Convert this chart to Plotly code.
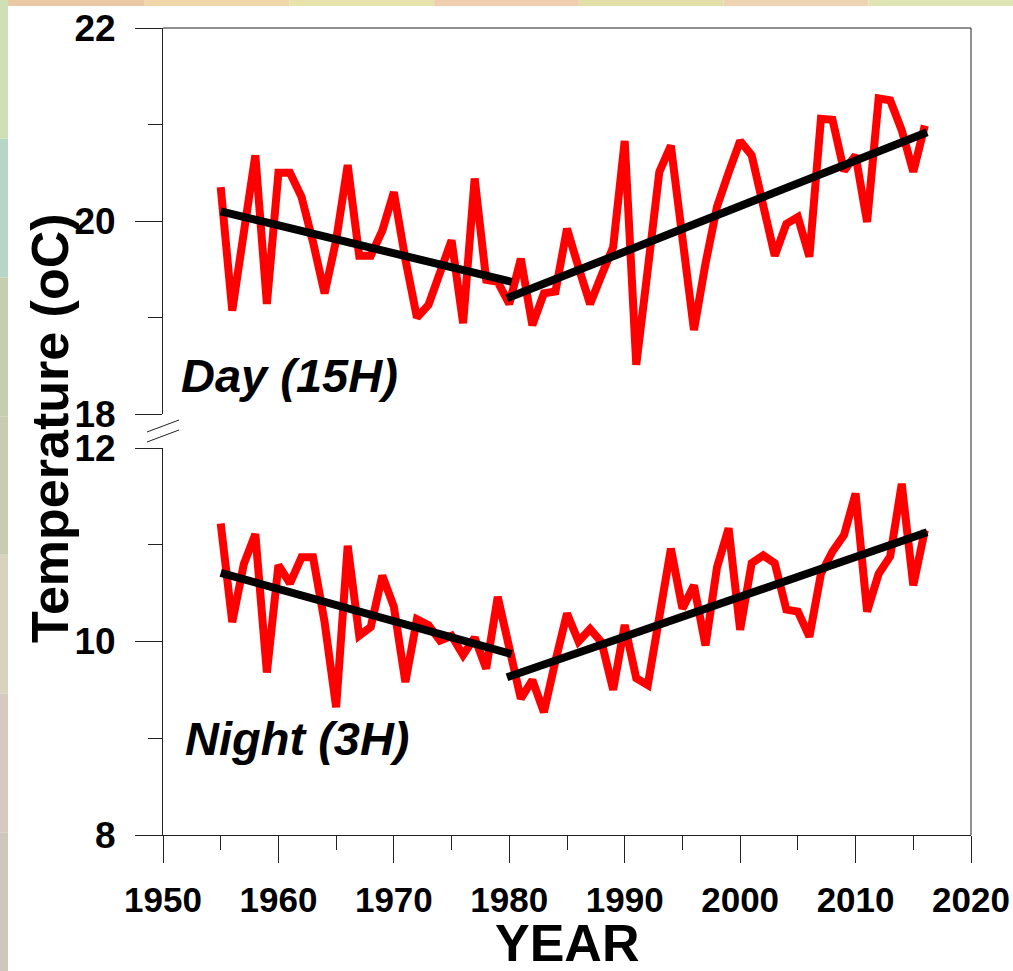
import plotly.graph_objects as go

years = list(range(1955, 2017))

day_temp = [20.35, 19.07, 19.88, 20.68, 19.14, 20.50, 20.50, 20.25, 19.78, 19.25,
            19.80, 20.58, 19.64, 19.64, 19.90, 20.30, 19.60, 19.00, 19.13, 19.47,
            19.80, 18.94, 20.44, 19.39, 19.37, 19.14, 19.61, 18.92, 19.25, 19.27,
            19.92, 19.52, 19.14, 19.44, 19.73, 20.83, 18.51, 19.50, 20.51, 20.78,
            19.83, 18.87, 19.56, 20.15, 20.50, 20.83, 20.68, 20.15, 19.64, 19.97,
            20.04, 19.63, 21.06, 21.05, 20.52, 20.68, 19.99, 21.27, 21.25, 20.94,
            20.51, 20.99]

night_temp = [11.22, 10.20, 10.80, 11.11, 9.68, 10.79, 10.60, 10.87, 10.87, 10.20,
              9.32, 10.99, 10.06, 10.15, 10.68, 10.36, 9.58, 10.23, 10.17, 10.01,
              10.06, 9.86, 10.04, 9.72, 10.46, 9.91, 9.41, 9.60, 9.27, 9.80,
              10.29, 10.00, 10.13, 9.99, 9.50, 10.17, 9.62, 9.55, 10.26, 10.96,
              10.34, 10.58, 9.96, 10.77, 11.17, 10.12, 10.81, 10.89, 10.81, 10.33,
              10.31, 10.05, 10.70, 10.93, 11.10, 11.53, 10.31, 10.70, 10.88, 11.63,
              10.58, 11.15]

# piecewise trend lines (endpoints)
trend1_years = [1955, 1980.2]
trend2_years = [1979.8, 2016.2]
day_trend1 = [20.10, 19.37]
day_trend2 = [19.20, 20.92]
night_trend1 = [10.71, 9.87]
night_trend2 = [9.63, 11.13]

x_ticks = list(range(1950, 2021, 10))

W, H = 1013, 971
L, R, T, B = 163, 971, 28, 835
PW, PH = R - L, B - T


def px(xp):
    return (xp - L) / PW


def py(yp):
    return (B - yp) / PH


RED = "#FF0000"
BLK = "#000000"
AX = "#222222"
FONT = "Liberation Sans, Arial, sans-serif"

fig = go.Figure()
fig.add_trace(go.Scatter(x=years, y=day_temp, mode="lines", yaxis="y2",
                         line=dict(color=RED, width=8), showlegend=False))
fig.add_trace(go.Scatter(x=years, y=night_temp, mode="lines", yaxis="y",
                         line=dict(color=RED, width=8), showlegend=False))
for xs, ys, ax in [(trend1_years, day_trend1, "y2"), (trend2_years, day_trend2, "y2"),
                   (trend1_years, night_trend1, "y"), (trend2_years, night_trend2, "y")]:
    fig.add_trace(go.Scatter(x=xs, y=ys, mode="lines", yaxis=ax,
                             line=dict(color=BLK, width=8), showlegend=False))

tickfont = dict(family=FONT, size=35, color="black", weight="bold")
yfont = dict(family=FONT, size=37, color="black", weight="bold")

common_y = dict(showline=True, linecolor=AX, linewidth=1, ticks="outside", ticklen=27,
                tickwidth=1, tickcolor=AX, dtick=2, tick0=0, showgrid=False, zeroline=False,
                tickfont=yfont, ticklabelstandoff=12, automargin=False,
                minor=dict(ticks="outside", ticklen=14, tickwidth=1, tickcolor=AX,
                           dtick=1, showgrid=False))

fig.update_layout(
    width=W, height=H,
    margin=dict(l=L, r=W - R, t=T, b=H - B, pad=0, autoexpand=False),
    paper_bgcolor="white", plot_bgcolor="white",
    xaxis=dict(domain=[0, 1], anchor="y", range=[1950, 2020], tickvals=x_ticks,
               showline=True, linecolor=AX, linewidth=1, ticks="outside", ticklen=27,
               tickwidth=1, tickcolor=AX, showgrid=False, zeroline=False,
               tickfont=tickfont, ticklabelstandoff=7, automargin=False,
               minor=dict(ticks="outside", ticklen=14, tickwidth=1, tickcolor=AX,
                          dtick=5, tick0=1950, showgrid=False)),
    yaxis=dict(domain=[0, py(448)], range=[8, 12], anchor="x", **common_y),
    yaxis2=dict(domain=[py(414), 1], range=[18, 22], anchor="x", **common_y),
)

shapes = [
    # frame top and right
    dict(type="line", xref="paper", yref="paper", x0=0, x1=1, y0=1, y1=1,
         line=dict(color=AX, width=1)),
    dict(type="line", xref="paper", yref="paper", x0=1, x1=1, y0=0, y1=1,
         line=dict(color=AX, width=1)),
    # axis break marks
    dict(type="line", xref="paper", yref="paper", x0=px(147), x1=px(179),
         y0=py(432), y1=py(420), line=dict(color=AX, width=1)),
    dict(type="line", xref="paper", yref="paper", x0=px(147), x1=px(179),
         y0=py(442), y1=py(430), line=dict(color=AX, width=1)),
]
# thin photo-like border strips along top and left edge
top_cols = ["#e9c9a6", "#efd7a9", "#e6e3ad", "#f0cfb0", "#e2dfa8", "#edd4b3", "#dfe4b5"]
seg = W / len(top_cols)
for i, c in enumerate(top_cols):
    shapes.append(dict(type="rect", xref="paper", yref="paper", layer="below",
                       x0=px(i * seg), x1=px((i + 1) * seg), y0=py(6), y1=py(0),
                       fillcolor=c, line=dict(width=0)))
left_cols = ["#cfe0b6", "#b7d6c6", "#c3cfae", "#c9ccb0", "#d8d2bf", "#d6c9c0", "#cfc7bb"]
seg = H / len(left_cols)
for i, c in enumerate(left_cols):
    shapes.append(dict(type="rect", xref="paper", yref="paper", layer="below",
                       x0=px(0), x1=px(8), y0=py((i + 1) * seg), y1=py(i * seg),
                       fillcolor=c, line=dict(width=0)))
fig.update_layout(shapes=shapes)

annots = [
    dict(text="Temperature (oC)", x=px(50), y=py(428), textangle=-90,
         font=dict(family=FONT, size=52, color="black", weight="bold")),
    dict(text="YEAR", x=px(567), y=py(943),
         font=dict(family=FONT, size=52, color="black", weight="bold")),
    dict(text="Day (15H)", x=px(289), y=py(376),
         font=dict(family=FONT, size=47, color="black", weight="bold", style="italic")),
    dict(text="Night (3H)", x=px(297), y=py(738),
         font=dict(family=FONT, size=47, color="black", weight="bold", style="italic")),
]
for a in annots:
    a.update(xref="paper", yref="paper", showarrow=False, xanchor="center", yanchor="middle")
fig.update_layout(annotations=annots)

fig.write_html("out.html", config={"displayModeBar": False},
               post_script="document.body.style.margin='0';document.body.style.padding='0';")
